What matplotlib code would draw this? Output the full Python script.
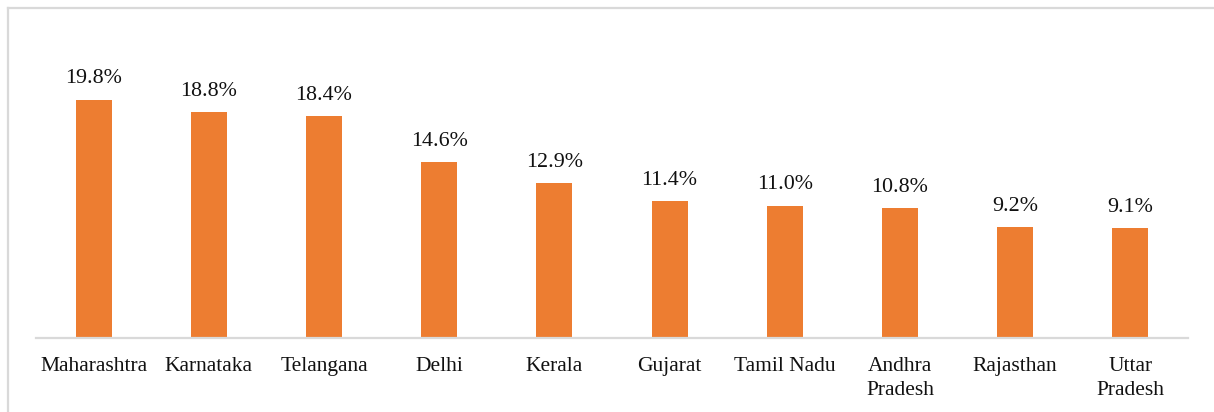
import matplotlib.pyplot as plt
from matplotlib.lines import Line2D

states = ["Maharashtra", "Karnataka", "Telangana", "Delhi", "Kerala",
          "Gujarat", "Tamil Nadu", "Andhra\nPradesh", "Rajasthan", "Uttar\nPradesh"]
shares = [19.8, 18.8, 18.4, 14.6, 12.9, 11.4, 11.0, 10.8, 9.2, 9.1]

W, H = 1214, 412
plt.rcParams["font.family"] = ["Liberation Serif", "DejaVu Serif"]

fig = plt.figure(figsize=(W / 100, H / 100), dpi=100)
ax = fig.add_axes([36 / W, 74 / H, (1188 - 36) / W, 301 / H])

x = range(len(states))
ax.bar(x, shares, width=0.3125, color="#ED7D31", zorder=2)
for xi, v in zip(x, shares):
    ax.annotate(f"{v:.1f}%", (xi, v), xytext=(0, 8), textcoords="offset points",
                ha="center", va="bottom", fontsize=15.8, color="#111111")

ax.set_xlim(-0.5, len(states) - 0.5)
ax.set_ylim(0, 25)
ax.set_xticks(list(x))
ax.set_xticklabels(states, fontsize=15.5, color="#111111", linespacing=1.3)
ax.tick_params(axis="x", length=0, pad=14)
ax.set_yticks([])
for s in ["top", "right", "left"]:
    ax.spines[s].set_visible(False)
ax.spines["bottom"].set_color("#D9D9D9")
ax.spines["bottom"].set_linewidth(1.6)

# chart area frame (top and left edges)
fig.add_artist(Line2D([7.5 / W, 1.0], [1 - 7.5 / H, 1 - 7.5 / H],
                      transform=fig.transFigure, color="#D9D9D9", lw=1.6))
fig.add_artist(Line2D([7.5 / W, 7.5 / W], [0, 1 - 7.5 / H],
                      transform=fig.transFigure, color="#D9D9D9", lw=1.6))

fig.savefig("out.png", dpi=100)
